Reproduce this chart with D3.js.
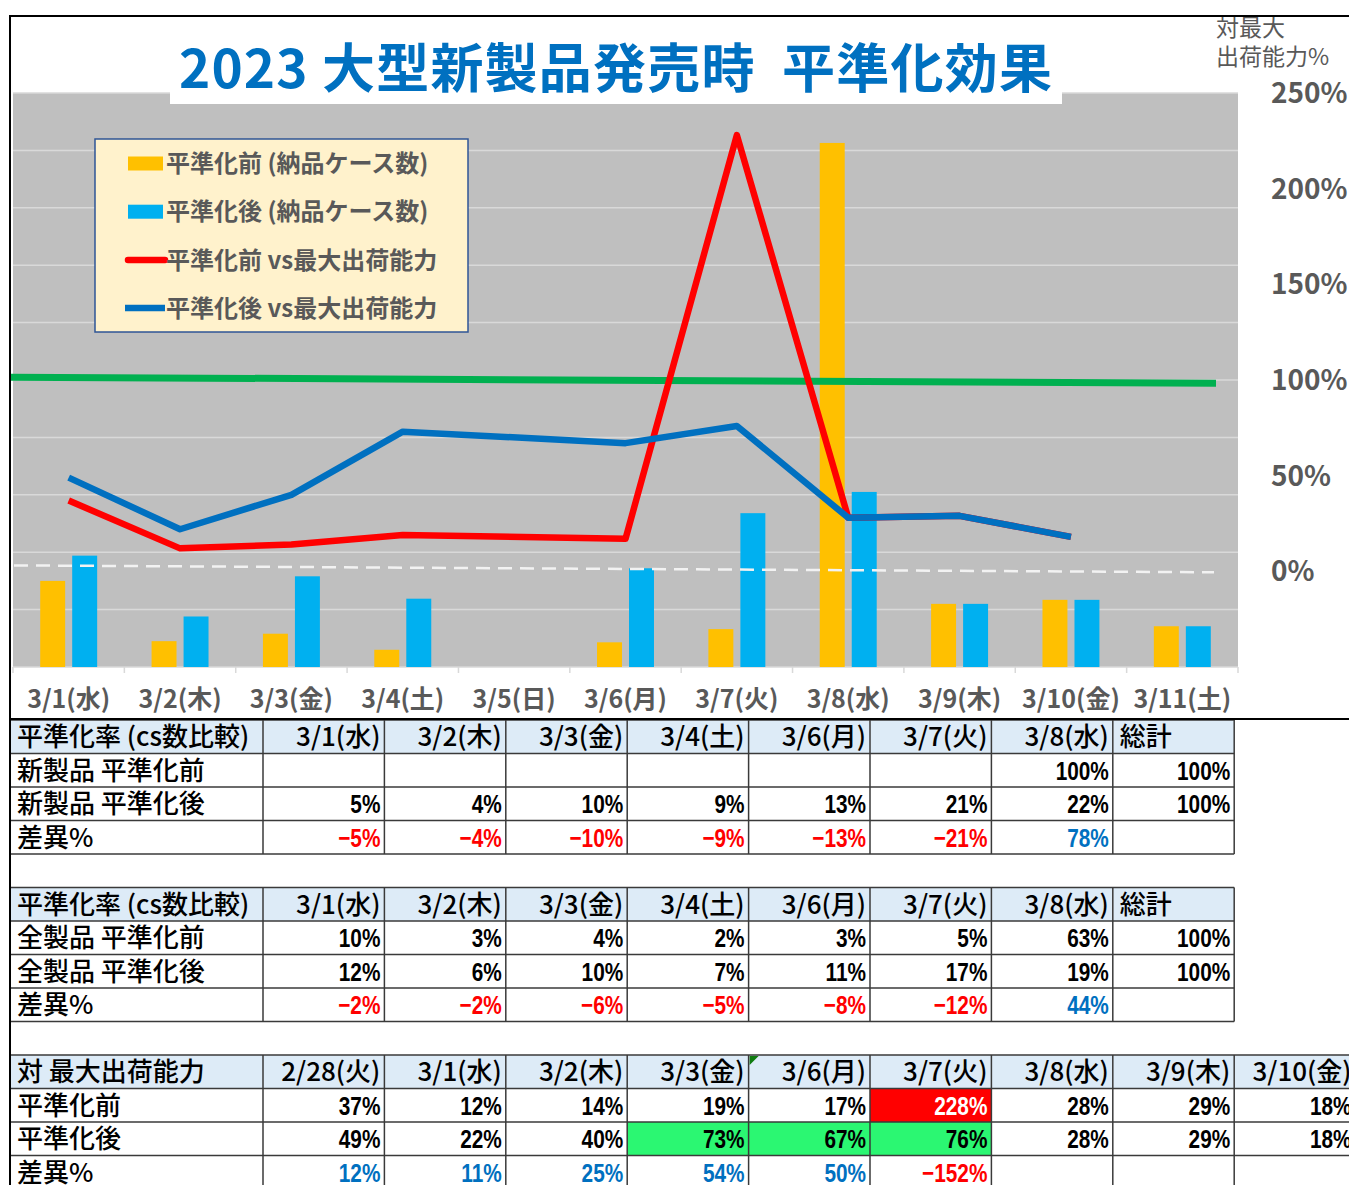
<!DOCTYPE html>
<html lang="ja">
<head>
<meta charset="utf-8">
<title>2023 大型新製品発売時 平準化効果</title>
<script src="https://cdn.jsdelivr.net/npm/d3@7"></script>
<style>
  body { margin: 0; background: #fff; }
  svg { display: block; font-family: "Noto Sans CJK JP", "Noto Sans", sans-serif; }
</style>
</head>
<body>
<div id="chart"></div>
<script>
// ---- chart data ----
var categories = ["3/1(水)", "3/2(木)", "3/3(金)", "3/4(土)", "3/5(日)", "3/6(月)",
                  "3/7(火)", "3/8(水)", "3/9(木)", "3/10(金)", "3/11(土)"];
// delivered cases (hidden left axis)
var casesBefore = [1500, 450, 580, 300, null, 430, 660, 9130, 1100, 1170, 710];
var casesAfter  = [1940, 880, 1580, 1190, null, 1720, 2680, 3050, 1100, 1170, 710];
// % of max shipping capacity (right axis)
var capBefore = [37, 12, 14, 19, null, 17, 228, 28, 29, 18, null];
var capAfter  = [49, 22, 40, 73, null, 67, 76, 28, 29, 18, null];
var capLimit  = [101.5, 98.3];   // green 100% line, start / end
var zeroRef   = [3.1, -0.5];     // dashed white line, start / end
var pctTicks  = [0, 50, 100, 150, 200, 250];

var legendLabels = ["平準化前 (納品ケース数)", "平準化後 (納品ケース数)",
                    "平準化前 vs最大出荷能力", "平準化後 vs最大出荷能力"];

// ---- table data ----
var t1Head = ["平準化率 (cs数比較)", "3/1(水)", "3/2(木)", "3/3(金)", "3/4(土)", "3/6(月)", "3/7(火)", "3/8(水)", "総計"];
var t1NewBefore = [null, null, null, null, null, null, 100, 100];
var t1NewAfter  = [5, 4, 10, 9, 13, 21, 22, 100];
var t1Diff      = [-5, -4, -10, -9, -13, -21, 78, null];

var t2AllBefore = [10, 3, 4, 2, 3, 5, 63, 100];
var t2AllAfter  = [12, 6, 10, 7, 11, 17, 19, 100];
var t2Diff      = [-2, -2, -6, -5, -8, -12, 44, null];

var t3Head   = ["対 最大出荷能力", "2/28(火)", "3/1(水)", "3/2(木)", "3/3(金)", "3/6(月)", "3/7(火)", "3/8(水)", "3/9(木)", "3/10(金)"];
var t3Before = [37, 12, 14, 19, 17, 228, 28, 29, 18];
var t3After  = [49, 22, 40, 73, 67, 76, 28, 29, 18];
var t3Diff   = [12, 11, 25, 54, 50, -152, null, null, null];

var width = 1349, height = 1185;
var svg = d3.select("#chart").append("svg")
    .attr("width", width)
    .attr("height", height);

var plot = {left: 13, right: 1238, top: 93, bottom: 667};

var x0 = d3.scaleBand().domain(categories).range([plot.left, plot.right]);
var x1 = d3.scaleBand().domain(["before", "after"])
    .range([0, x0.bandwidth()]).paddingInner(0.22).paddingOuter(0.85);
var yCases = d3.scaleLinear().domain([0, 10000]).range([plot.bottom, plot.top]);
var yPct = d3.scaleLinear().domain([-50, 250]).range([plot.bottom, plot.top]);

function cx(i) { return x0(categories[i]) + x0.bandwidth() / 2; }

// plot background
svg.append("rect")
    .attr("x", plot.left).attr("y", plot.top)
    .attr("width", plot.right - plot.left).attr("height", plot.bottom - plot.top)
    .attr("fill", "#bfbfbf");

// gridlines (primary axis)
svg.append("g").selectAll("line")
    .data(yCases.ticks(10))
  .enter().append("line")
    .attr("x1", plot.left).attr("x2", plot.right)
    .attr("y1", function(d) { return yCases(d); })
    .attr("y2", function(d) { return yCases(d); })
    .attr("stroke", "#d9d9d9")
    .attr("stroke-width", 1.5);

// category tick marks
var bounds = categories.map(function(c) { return x0(c); }).concat([plot.right]);
svg.append("g").selectAll("line")
    .data(bounds)
  .enter().append("line")
    .attr("x1", function(d) { return d; }).attr("x2", function(d) { return d; })
    .attr("y1", plot.bottom).attr("y2", plot.bottom + 6)
    .attr("stroke", "#d9d9d9").attr("stroke-width", 1.5);

// bars
var barData = [];
categories.forEach(function(c, i) {
  if (casesBefore[i] != null) barData.push({cat: c, key: "before", v: casesBefore[i]});
  if (casesAfter[i] != null) barData.push({cat: c, key: "after", v: casesAfter[i]});
});
var barColor = {before: "#ffc000", after: "#00b0f0"};
svg.append("g").selectAll("rect")
    .data(barData)
  .enter().append("rect")
    .attr("x", function(d) { return x0(d.cat) + x1(d.key); })
    .attr("y", function(d) { return yCases(d.v); })
    .attr("width", x1.bandwidth())
    .attr("height", function(d) { return plot.bottom - yCases(d.v); })
    .attr("fill", function(d) { return barColor[d.key]; });

// reference lines
svg.append("line")
    .attr("x1", plot.left + 1).attr("x2", plot.right - 24)
    .attr("y1", yPct(zeroRef[0])).attr("y2", yPct(zeroRef[1]))
    .attr("stroke", "#f2f2f2").attr("stroke-width", 2.5)
    .attr("stroke-dasharray", "14,8");

svg.append("line")
    .attr("x1", plot.left - 3).attr("x2", plot.right - 22)
    .attr("y1", yPct(capLimit[0])).attr("y2", yPct(capLimit[1]))
    .attr("stroke", "#00b050").attr("stroke-width", 7);

// capacity lines (gaps are bridged)
function pts(arr) {
  return arr.map(function(v, i) { return {i: i, v: v}; })
            .filter(function(d) { return d.v != null; });
}
var line = d3.line()
    .x(function(d) { return cx(d.i); })
    .y(function(d) { return yPct(d.v); });

svg.append("path")
    .attr("d", line(pts(capBefore)))
    .attr("fill", "none").attr("stroke", "#ff0000").attr("stroke-width", 6.5)
    .attr("stroke-linejoin", "round");

svg.append("path")
    .attr("d", line(pts(capAfter)))
    .attr("fill", "none").attr("stroke", "#0070c0").attr("stroke-width", 6.5)
    .attr("stroke-linejoin", "round");

// title
svg.append("rect")
    .attr("x", 170).attr("y", 24).attr("width", 892).attr("height", 80)
    .attr("fill", "#fff");
svg.append("text")
    .attr("x", 616).attr("y", 88)
    .attr("text-anchor", "middle")
    .attr("font-size", 53).attr("font-weight", "bold")
    .attr("letter-spacing", 1.2)
    .style("white-space", "pre")
    .attr("fill", "#0070c0")
    .text("2023 大型新製品発売時  平準化効果");

// right axis
svg.append("g").selectAll("text")
    .data(pctTicks)
  .enter().append("text")
    .attr("x", 1271)
    .attr("y", function(d) { return yPct(d); })
    .attr("dy", "0.36em")
    .attr("font-size", 28).attr("font-weight", "bold")
    .attr("fill", "#595959")
    .text(function(d) { return d + "%"; });

var axTitle = svg.append("text")
    .attr("font-size", 23).attr("fill", "#595959");
axTitle.append("tspan").attr("x", 1216).attr("y", 36).text("対最大");
axTitle.append("tspan").attr("x", 1216).attr("y", 65).text("出荷能力%");

// x labels
svg.append("g").selectAll("text")
    .data(categories)
  .enter().append("text")
    .attr("x", function(d, i) { return cx(i); })
    .attr("y", 708)
    .attr("text-anchor", "middle")
    .attr("font-size", 25).attr("font-weight", "bold")
    .attr("fill", "#595959")
    .text(function(d) { return d; });

// legend
var legend = svg.append("g").attr("transform", "translate(95,139)");
legend.append("rect")
    .attr("width", 373).attr("height", 193)
    .attr("fill", "#fff2cc").attr("stroke", "#2f5597").attr("stroke-width", 1.5);
var legendKeys = [
  {type: "bar", color: "#ffc000"},
  {type: "bar", color: "#00b0f0"},
  {type: "line", color: "#ff0000", cap: "round"},
  {type: "line", color: "#0070c0", cap: "butt"}
];
legendKeys.forEach(function(k, i) {
  var cy = 24.5 + i * 48.2;
  if (k.type == "bar") {
    legend.append("rect")
        .attr("x", 33).attr("y", cy - 7).attr("width", 35).attr("height", 14)
        .attr("fill", k.color);
  } else {
    legend.append("line")
        .attr("x1", k.cap == "round" ? 33 : 30).attr("x2", 70)
        .attr("y1", cy).attr("y2", cy)
        .attr("stroke", k.color).attr("stroke-width", 6.5)
        .attr("stroke-linecap", k.cap);
  }
  legend.append("text")
      .attr("x", 71).attr("y", cy).attr("dy", "0.36em")
      .attr("font-size", 24).attr("font-weight", "bold")
      .attr("fill", "#595959")
      .text(legendLabels[i]);
});

// chart frame
svg.append("line").attr("x1", 9).attr("x2", width).attr("y1", 16).attr("y2", 16)
    .attr("stroke", "#000").attr("stroke-width", 2);
svg.append("line").attr("x1", 10).attr("x2", 10).attr("y1", 15).attr("y2", height)
    .attr("stroke", "#000").attr("stroke-width", 2);

// ---- tables ----
var rowH = 33.5, tableTop = 720, labelLeft = 11, firstCol = 263, colW = 121.4;
var numFont = "'Liberation Sans', Arial, sans-serif";

function fmt(v) { return v == null ? "" : (v < 0 ? "\u2212" + (-v) : v) + "%"; }

function drawTable(rowIndex, head, rows) {
  var top = tableTop + rowIndex * rowH;
  var nCols = head.length - 1;
  var right = firstCol + nCols * colW;
  var g = svg.append("g");

  g.append("rect")
      .attr("x", labelLeft).attr("y", top)
      .attr("width", right - labelLeft).attr("height", rowH)
      .attr("fill", "#ddebf7");

  // cell fills
  rows.forEach(function(r, ri) {
    r.values.forEach(function(v, ci) {
      var f = r.fill ? r.fill(v) : null;
      if (f) {
        g.append("rect")
            .attr("x", firstCol + ci * colW).attr("y", top + (ri + 1) * rowH)
            .attr("width", colW).attr("height", rowH)
            .attr("fill", f);
      }
    });
  });

  // borders
  d3.range(rows.length + 2).forEach(function(k) {
    g.append("line")
        .attr("x1", labelLeft).attr("x2", right)
        .attr("y1", top + k * rowH).attr("y2", top + k * rowH)
        .attr("stroke", "#3a3a3a").attr("stroke-width", 1.5);
  });
  d3.range(nCols + 1).forEach(function(k) {
    g.append("line")
        .attr("x1", firstCol + k * colW).attr("x2", firstCol + k * colW)
        .attr("y1", top).attr("y2", top + (rows.length + 1) * rowH)
        .attr("stroke", "#3a3a3a").attr("stroke-width", 1.5);
  });

  // header
  head.forEach(function(h, ci) {
    var isTotal = h == "総計";
    g.append("text")
        .attr("x", ci == 0 ? 17 : (isTotal ? firstCol + (ci - 1) * colW + 7 : firstCol + ci * colW - 4))
        .attr("y", top + rowH / 2).attr("dy", "0.36em")
        .attr("text-anchor", ci == 0 || isTotal ? "start" : "end")
        .attr("font-size", 26).attr("font-weight", 500).attr("fill", "#000")
        .text(h);
  });

  rows.forEach(function(r, ri) {
    var y = top + (ri + 1) * rowH + rowH / 2;
    g.append("text")
        .attr("x", 17).attr("y", y).attr("dy", "0.36em")
        .attr("font-size", 26).attr("font-weight", 500).attr("fill", "#000")
        .text(r.label);
    r.values.forEach(function(v, ci) {
      // condensed bold figures, as in the sheet
      g.append("text")
          .attr("transform", "translate(" + (firstCol + (ci + 1) * colW - 4) + "," + y + ") scale(0.8,1)")
          .attr("dy", "0.36em")
          .attr("text-anchor", "end")
          .attr("font-family", numFont).attr("font-weight", "bold")
          .attr("font-size", 26)
          .attr("fill", r.color ? r.color(v) : "#000")
          .text(fmt(v));
    });
  });
  return {top: top};
}

function diffColor(v) { return v < 0 ? "#ff0000" : "#0070c0"; }

drawTable(0, t1Head, [
  {label: "新製品 平準化前", values: t1NewBefore},
  {label: "新製品 平準化後", values: t1NewAfter},
  {label: "差異%", values: t1Diff, color: diffColor}
]);

drawTable(5, t1Head, [
  {label: "全製品 平準化前", values: t2AllBefore},
  {label: "全製品 平準化後", values: t2AllAfter},
  {label: "差異%", values: t2Diff, color: diffColor}
]);

var t3 = drawTable(10, t3Head, [
  {label: "平準化前", values: t3Before,
   fill: function(v) { return v > 100 ? "#ff0000" : null; },
   color: function(v) { return v > 100 ? "#fff" : "#000"; }},
  {label: "平準化後", values: t3After,
   fill: function(v) { return v >= 50 && v <= 100 ? "#2bf772" : null; }},
  {label: "差異%", values: t3Diff, color: diffColor}
]);

// error indicator on the 3/6 header cell
var triX = firstCol + 4 * colW + 1, triY = t3.top + 1;
svg.append("path")
    .attr("d", "M" + triX + "," + triY + "h9l-9,9z")
    .attr("fill", "#107c10");

// chart bottom frame
svg.append("line").attr("x1", 9).attr("x2", width).attr("y1", 719).attr("y2", 719)
    .attr("stroke", "#000").attr("stroke-width", 2);
</script>
</body>
</html>
